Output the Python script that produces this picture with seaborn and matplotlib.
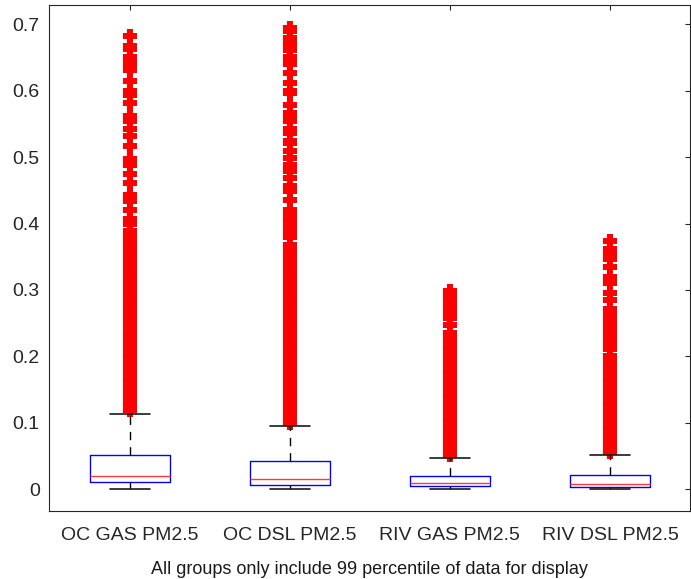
import pandas as pd
import seaborn as sns
from matplotlib import pyplot as plt
from matplotlib import ticker as tkr

# box statistics: lower whisker, q1, median, q3, upper whisker
GROUPS = ["OC GAS PM2.5", "OC DSL PM2.5", "RIV GAS PM2.5", "RIV DSL PM2.5"]
whisker_lo = [0.0, 0.0, 0.0, 0.0]
q1 = [0.0114, 0.0065, 0.0045, 0.0040]
median = [0.0205, 0.0155, 0.0099, 0.0085]
q3 = [0.0516, 0.0421, 0.0205, 0.0220]
whisker_hi = [0.1138, 0.0953, 0.0467, 0.0512]

# outliers (the dense "+" columns), read block by block
oc_gas_out = [0.119, 0.128, 0.137, 0.146, 0.155, 0.164, 0.173, 0.182, 0.191,
              0.200, 0.209, 0.218, 0.227, 0.236, 0.245, 0.254, 0.263, 0.272,
              0.281, 0.290, 0.299, 0.308, 0.317, 0.326, 0.335, 0.344, 0.353,
              0.362, 0.371, 0.380, 0.389, 0.400, 0.407, 0.420, 0.434, 0.443,
              0.461, 0.474, 0.488, 0.497, 0.516, 0.532, 0.542, 0.554, 0.562,
              0.581, 0.593, 0.600, 0.615, 0.631, 0.637, 0.646, 0.650, 0.663,
              0.667, 0.683]
oc_dsl_out = [0.100, 0.109, 0.118, 0.127, 0.136, 0.145, 0.154, 0.163, 0.172,
              0.181, 0.190, 0.199, 0.208, 0.217, 0.226, 0.235, 0.244, 0.253,
              0.262, 0.271, 0.280, 0.289, 0.298, 0.307, 0.316, 0.325, 0.334,
              0.343, 0.352, 0.361, 0.367, 0.379, 0.388, 0.397, 0.406, 0.415,
              0.420, 0.436, 0.449, 0.457, 0.469, 0.479, 0.488, 0.499, 0.509,
              0.521, 0.525, 0.536, 0.542, 0.554, 0.562, 0.566, 0.579, 0.596,
              0.600, 0.612, 0.627, 0.640, 0.646, 0.651, 0.661, 0.670, 0.680,
              0.690, 0.695]
riv_gas_out = [0.051, 0.060, 0.069, 0.078, 0.087, 0.096, 0.105, 0.114, 0.123,
               0.132, 0.141, 0.150, 0.159, 0.168, 0.177, 0.186, 0.195, 0.204,
               0.213, 0.222, 0.231, 0.236, 0.247, 0.258, 0.267, 0.276, 0.285,
               0.291, 0.298]
riv_dsl_out = [0.056, 0.065, 0.074, 0.083, 0.092, 0.101, 0.110, 0.119, 0.128,
               0.137, 0.146, 0.155, 0.164, 0.173, 0.182, 0.191, 0.200, 0.211,
               0.220, 0.229, 0.238, 0.247, 0.256, 0.265, 0.272, 0.285, 0.296,
               0.310, 0.320, 0.334, 0.347, 0.356, 0.361, 0.374]

XLABEL = "All groups only include 99 percentile of data for display"


def build_frames():
    box_rows = []
    for i, g in enumerate(GROUPS):
        for v in (whisker_lo[i], q1[i], median[i], q3[i], whisker_hi[i]):
            box_rows.append({"group": g, "value": v})
    out_rows = []
    for g, vals in zip(GROUPS, [oc_gas_out, oc_dsl_out, riv_gas_out, riv_dsl_out]):
        for v in vals:
            out_rows.append({"group": g, "value": v})
    return pd.DataFrame(box_rows), pd.DataFrame(out_rows)


def main():
    sns.set_style("white")
    plt.rcParams["font.family"] = ["Liberation Sans", "DejaVu Sans"]

    box_df, out_df = build_frames()
    fig, ax = plt.subplots(figsize=(6.91, 5.79), dpi=100)
    fig.subplots_adjust(left=0.0716, right=0.9986, bottom=0.118, top=0.9914)

    sns.stripplot(data=out_df, x="group", y="value", order=GROUPS, jitter=False,
                  marker="+", size=9.8, linewidth=4.3, color="#ff0000", ax=ax,
                  zorder=2)
    sns.boxplot(data=box_df, x="group", y="value", order=GROUPS,
                whis=(0, 100), width=0.5, fill=False, showfliers=False,
                linewidth=1.0,
                boxprops={"color": "#0000ff"},
                medianprops={"color": "#ff3a3a"},
                whiskerprops={"color": "black", "linestyle": (0, (6, 5))},
                capprops={"color": "#1a1a1a", "linewidth": 1.2},
                ax=ax, zorder=3)

    ax.set_xlim(-0.5, 3.5)
    ax.set_ylim(-0.0322, 0.729)
    ax.set_yticks([0, 0.1, 0.2, 0.3, 0.4, 0.5, 0.6, 0.7])
    ax.yaxis.set_major_formatter(tkr.FuncFormatter(lambda x, p: "{:g}".format(round(x, 2))))
    ax.set_ylabel("")
    ax.set_xlabel(XLABEL, fontsize=13, color="#1a1a1a", labelpad=12)

    ax.tick_params(direction="in", top=True, right=True, length=3.6, width=0.8,
                   color="#262626", labelcolor="#262626", labelsize=14)
    ax.tick_params(axis="x", pad=12)
    ax.tick_params(axis="y", pad=7)
    for s in ax.spines.values():
        s.set_visible(True)
        s.set_color("#262626")
        s.set_linewidth(0.8)

    fig.savefig("out.png", dpi=100)


if __name__ == "__main__":
    main()
